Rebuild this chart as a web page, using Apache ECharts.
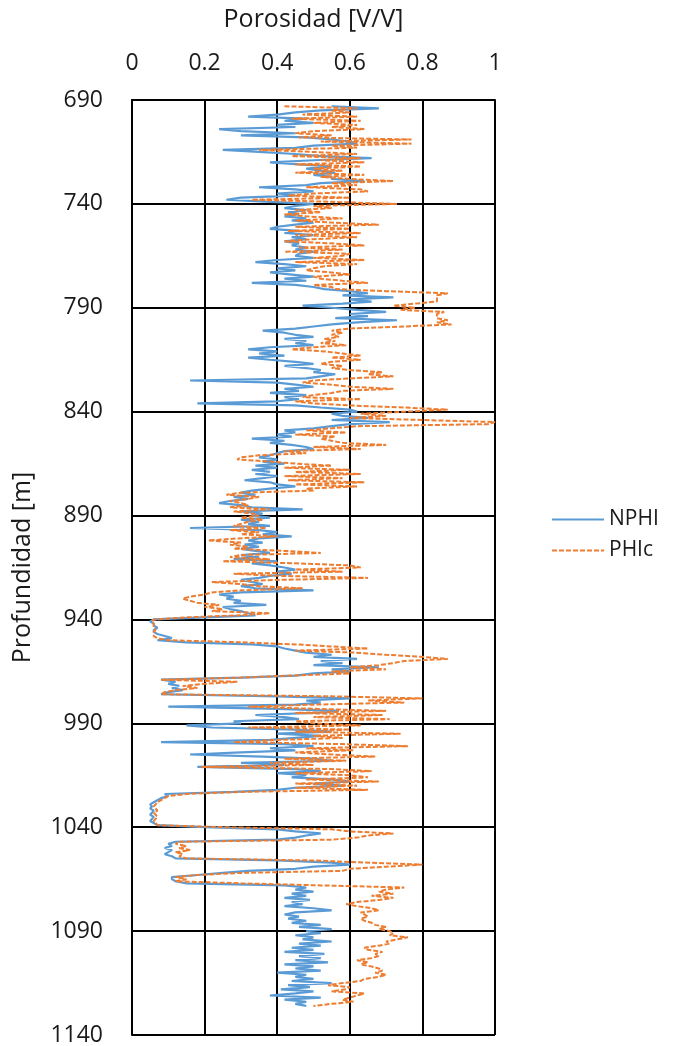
<!DOCTYPE html>
<html>
<head>
<meta charset="utf-8">
<script src="https://cdn.jsdelivr.net/npm/echarts@6/dist/echarts.min.js"></script>
<style>
html,body{margin:0;padding:0;background:#fff;}
#chart{width:678px;height:1046px;}
</style>
</head>
<body>
<div id="chart"></div>
<script>
// Depth sampling grid (m), 1 m step
var DEPTH_START = 693;
var DEPTH_STEP = 1;

// NPHI [V/V], from 693 m to 1126 m
var NPHI = [
0.55,0.68,0.52,0.45,0.40,0.32,0.48,0.42,0.50,0.40,
0.45,0.24,0.30,0.45,0.30,0.48,0.55,0.60,0.62,0.50,
0.45,0.25,0.35,0.45,0.52,0.66,0.50,0.38,0.46,0.55,
0.48,0.52,0.56,0.50,0.55,0.55,0.64,0.52,0.48,0.35,
0.45,0.50,0.40,0.45,0.30,0.26,0.38,0.50,0.45,0.42,
0.48,0.43,0.46,0.42,0.48,0.44,0.50,0.45,0.40,0.38,
0.46,0.42,0.50,0.44,0.48,0.42,0.46,0.44,0.48,0.45,
0.50,0.46,0.45,0.50,0.40,0.34,0.42,0.48,0.40,0.45,
0.38,0.44,0.50,0.42,0.48,0.33,0.45,0.50,0.53,0.60,
0.65,0.58,0.72,0.60,0.66,0.58,0.47,0.55,0.62,0.70,
0.60,0.65,0.56,0.73,0.62,0.55,0.50,0.45,0.36,0.42,
0.45,0.50,0.42,0.48,0.45,0.50,0.38,0.32,0.40,0.35,
0.42,0.32,0.38,0.45,0.50,0.42,0.48,0.52,0.50,0.56,
0.52,0.48,0.16,0.40,0.45,0.50,0.42,0.46,0.38,0.48,
0.42,0.46,0.40,0.18,0.45,0.52,0.60,0.62,0.55,0.58,
0.65,0.55,0.71,0.60,0.55,0.50,0.42,0.45,0.40,0.44,
0.33,0.42,0.38,0.44,0.48,0.50,0.42,0.40,0.38,0.35,
0.40,0.36,0.42,0.34,0.40,0.33,0.38,0.34,0.40,0.36,
0.31,0.38,0.40,0.45,0.38,0.33,0.30,0.34,0.28,0.32,
0.27,0.24,0.30,0.33,0.47,0.30,0.36,0.33,0.38,0.30,
0.35,0.32,0.38,0.16,0.35,0.40,0.36,0.44,0.35,0.32,
0.36,0.31,0.35,0.30,0.34,0.38,0.30,0.35,0.28,0.40,
0.33,0.38,0.42,0.45,0.40,0.44,0.38,0.35,0.30,0.33,
0.36,0.30,0.34,0.50,0.30,0.24,0.28,0.26,0.30,0.28,
0.37,0.25,0.27,0.30,0.32,0.34,0.20,0.06,0.05,0.06,
0.06,0.07,0.06,0.06,0.07,0.09,0.11,0.07,0.15,0.33,
0.40,0.42,0.45,0.48,0.55,0.50,0.62,0.52,0.58,0.50,
0.68,0.55,0.60,0.50,0.45,0.30,0.08,0.12,0.10,0.13,
0.11,0.14,0.10,0.08,0.40,0.60,0.48,0.52,0.45,0.10,
0.40,0.57,0.50,0.34,0.42,0.46,0.28,0.30,0.15,0.22,
0.45,0.55,0.40,0.52,0.45,0.38,0.08,0.42,0.50,0.38,
0.45,0.30,0.16,0.36,0.50,0.55,0.30,0.42,0.18,0.45,
0.52,0.40,0.48,0.44,0.55,0.60,0.50,0.58,0.45,0.40,
0.28,0.09,0.10,0.08,0.07,0.06,0.05,0.055,0.05,0.06,
0.055,0.05,0.06,0.055,0.05,0.06,0.07,0.20,0.40,0.45,
0.52,0.48,0.45,0.40,0.12,0.10,0.11,0.09,0.11,0.10,
0.09,0.11,0.12,0.40,0.55,0.60,0.50,0.45,0.32,0.25,
0.18,0.11,0.11,0.12,0.15,0.42,0.48,0.45,0.50,0.44,
0.48,0.42,0.49,0.44,0.47,0.42,0.50,0.55,0.45,0.42,
0.46,0.43,0.48,0.44,0.52,0.46,0.55,0.48,0.52,0.45,
0.50,0.47,0.55,0.46,0.52,0.44,0.50,0.42,0.53,0.46,
0.52,0.45,0.54,0.42,0.50,0.45,0.52,0.40,0.48,0.45,
0.50,0.44,0.55,0.43,0.49,0.41,0.50,0.45,0.38,0.52,
0.42,0.48,0.45,0.48
];

// PHIc [V/V], from 693 m to 1126 m
var PHIC = [
0.42,0.62,0.55,0.60,0.47,0.62,0.44,0.63,0.50,0.62,
0.55,0.64,0.50,0.45,0.55,0.46,0.77,0.52,0.77,0.55,
0.62,0.35,0.50,0.62,0.44,0.63,0.52,0.64,0.45,0.63,
0.50,0.58,0.45,0.64,0.52,0.60,0.72,0.55,0.62,0.48,
0.63,0.65,0.50,0.43,0.60,0.33,0.55,0.73,0.50,0.55,
0.45,0.52,0.42,0.48,0.58,0.45,0.55,0.68,0.45,0.60,
0.43,0.63,0.45,0.62,0.50,0.42,0.55,0.64,0.46,0.58,
0.42,0.60,0.58,0.50,0.64,0.45,0.62,0.53,0.50,0.48,
0.55,0.60,0.50,0.52,0.58,0.65,0.50,0.55,0.56,0.70,
0.87,0.84,0.84,0.84,0.84,0.78,0.72,0.78,0.74,0.86,
0.84,0.84,0.84,0.87,0.84,0.88,0.75,0.60,0.55,0.58,
0.55,0.57,0.53,0.56,0.52,0.59,0.50,0.44,0.53,0.58,
0.63,0.55,0.63,0.55,0.52,0.58,0.55,0.60,0.69,0.65,
0.72,0.60,0.50,0.47,0.55,0.60,0.72,0.58,0.55,0.50,
0.47,0.63,0.45,0.50,0.60,0.75,0.87,0.75,0.63,0.70,
0.60,0.80,1.00,0.98,0.62,0.55,0.48,0.59,0.45,0.56,
0.52,0.55,0.58,0.70,0.50,0.63,0.42,0.48,0.35,0.30,
0.29,0.38,0.45,0.55,0.42,0.60,0.45,0.63,0.42,0.58,
0.43,0.64,0.45,0.62,0.48,0.50,0.30,0.26,0.35,0.32,
0.27,0.30,0.32,0.27,0.38,0.28,0.33,0.35,0.30,0.36,
0.32,0.30,0.28,0.37,0.27,0.35,0.30,0.40,0.29,0.21,
0.30,0.27,0.32,0.28,0.42,0.52,0.30,0.27,0.38,0.25,
0.45,0.60,0.63,0.45,0.58,0.28,0.40,0.65,0.40,0.22,
0.30,0.35,0.47,0.30,0.22,0.20,0.16,0.14,0.16,0.18,
0.24,0.20,0.25,0.22,0.38,0.30,0.15,0.06,0.055,0.06,
0.06,0.06,0.065,0.06,0.06,0.06,0.07,0.10,0.30,0.45,
0.55,0.65,0.45,0.62,0.70,0.80,0.87,0.75,0.72,0.68,
0.60,0.70,0.55,0.60,0.44,0.30,0.08,0.29,0.20,0.14,
0.18,0.12,0.09,0.08,0.55,0.80,0.65,0.75,0.50,0.32,
0.50,0.70,0.45,0.69,0.50,0.71,0.45,0.50,0.63,0.32,
0.60,0.45,0.74,0.50,0.58,0.40,0.28,0.58,0.76,0.48,
0.61,0.45,0.55,0.67,0.42,0.59,0.38,0.50,0.19,0.55,
0.66,0.45,0.60,0.65,0.48,0.68,0.45,0.62,0.45,0.65,
0.30,0.15,0.10,0.09,0.08,0.07,0.065,0.06,0.065,0.07,
0.06,0.065,0.07,0.065,0.06,0.065,0.07,0.25,0.55,0.60,
0.72,0.65,0.62,0.55,0.13,0.12,0.15,0.13,0.16,0.12,
0.14,0.13,0.15,0.50,0.64,0.80,0.70,0.60,0.58,0.30,
0.18,0.12,0.15,0.12,0.30,0.52,0.75,0.70,0.68,0.72,
0.66,0.72,0.68,0.62,0.59,0.62,0.66,0.68,0.63,0.64,
0.65,0.63,0.64,0.66,0.67,0.70,0.68,0.71,0.72,0.71,
0.76,0.73,0.70,0.71,0.68,0.64,0.65,0.69,0.67,0.68,
0.66,0.62,0.65,0.63,0.66,0.68,0.69,0.67,0.70,0.68,
0.64,0.63,0.58,0.54,0.60,0.59,0.55,0.64,0.62,0.60,
0.58,0.61,0.55,0.50
];

var SERIES_NAMES = ['NPHI', 'PHIc'];
var X_TITLE = 'Porosidad [V/V]';
var Y_TITLE = 'Profundidad [m]';

function pairs(vals) {
  return vals.map(function (v, i) { return [v, DEPTH_START + i * DEPTH_STEP]; });
}

var FONT = '"Open Sans", sans-serif';
var TXT = '#1a1a1a';
var chart = echarts.init(document.getElementById('chart'), null, {renderer: 'canvas'});
chart.setOption({
  animation: false,
  backgroundColor: '#ffffff',
  grid: {left: 132, right: 183, top: 100, bottom: 11, outerBoundsMode: 'none'},
  legend: {
    orient: 'vertical', left: 546, top: 504, itemWidth: 52, itemHeight: 14, itemGap: 10,
    itemStyle: {opacity: 0},
    textStyle: {fontFamily: FONT, fontSize: 21, color: TXT},
    data: SERIES_NAMES
  },
  xAxis: {
    type: 'value', position: 'top', min: 0, max: 1, interval: 0.2,
    name: X_TITLE, nameLocation: 'middle', nameGap: 68,
    nameTextStyle: {fontFamily: FONT, fontSize: 25, color: TXT},
    axisLine: {show: true, lineStyle: {color: '#000', width: 2}},
    axisTick: {show: false},
    axisLabel: {fontFamily: FONT, fontSize: 23, color: TXT, margin: 25},
    splitLine: {show: true, lineStyle: {color: '#000', width: 2}}
  },
  yAxis: {
    type: 'value', inverse: true, min: 690, max: 1140, interval: 50,
    name: Y_TITLE, nameLocation: 'middle', nameGap: 97, nameRotate: 90,
    nameTextStyle: {fontFamily: FONT, fontSize: 25, color: TXT},
    axisLine: {show: true, lineStyle: {color: '#000', width: 2}},
    axisTick: {show: false},
    axisLabel: {fontFamily: FONT, fontSize: 23, color: TXT, margin: 29,
      formatter: function (v) { return String(v); }},
    splitLine: {show: true, lineStyle: {color: '#000', width: 2}}
  },
  series: [
    {
      name: SERIES_NAMES[0], type: 'line', data: pairs(NPHI), symbol: 'none',
      lineStyle: {color: '#5B9BD5', width: 2.2}, itemStyle: {color: '#5B9BD5'}, z: 3
    },
    {
      name: SERIES_NAMES[1], type: 'line', data: pairs(PHIC), symbol: 'none',
      lineStyle: {color: '#ED7D31', width: 2, type: [5, 2]}, itemStyle: {color: '#ED7D31'}, z: 4
    }
  ]
});
</script>
</body>
</html>
